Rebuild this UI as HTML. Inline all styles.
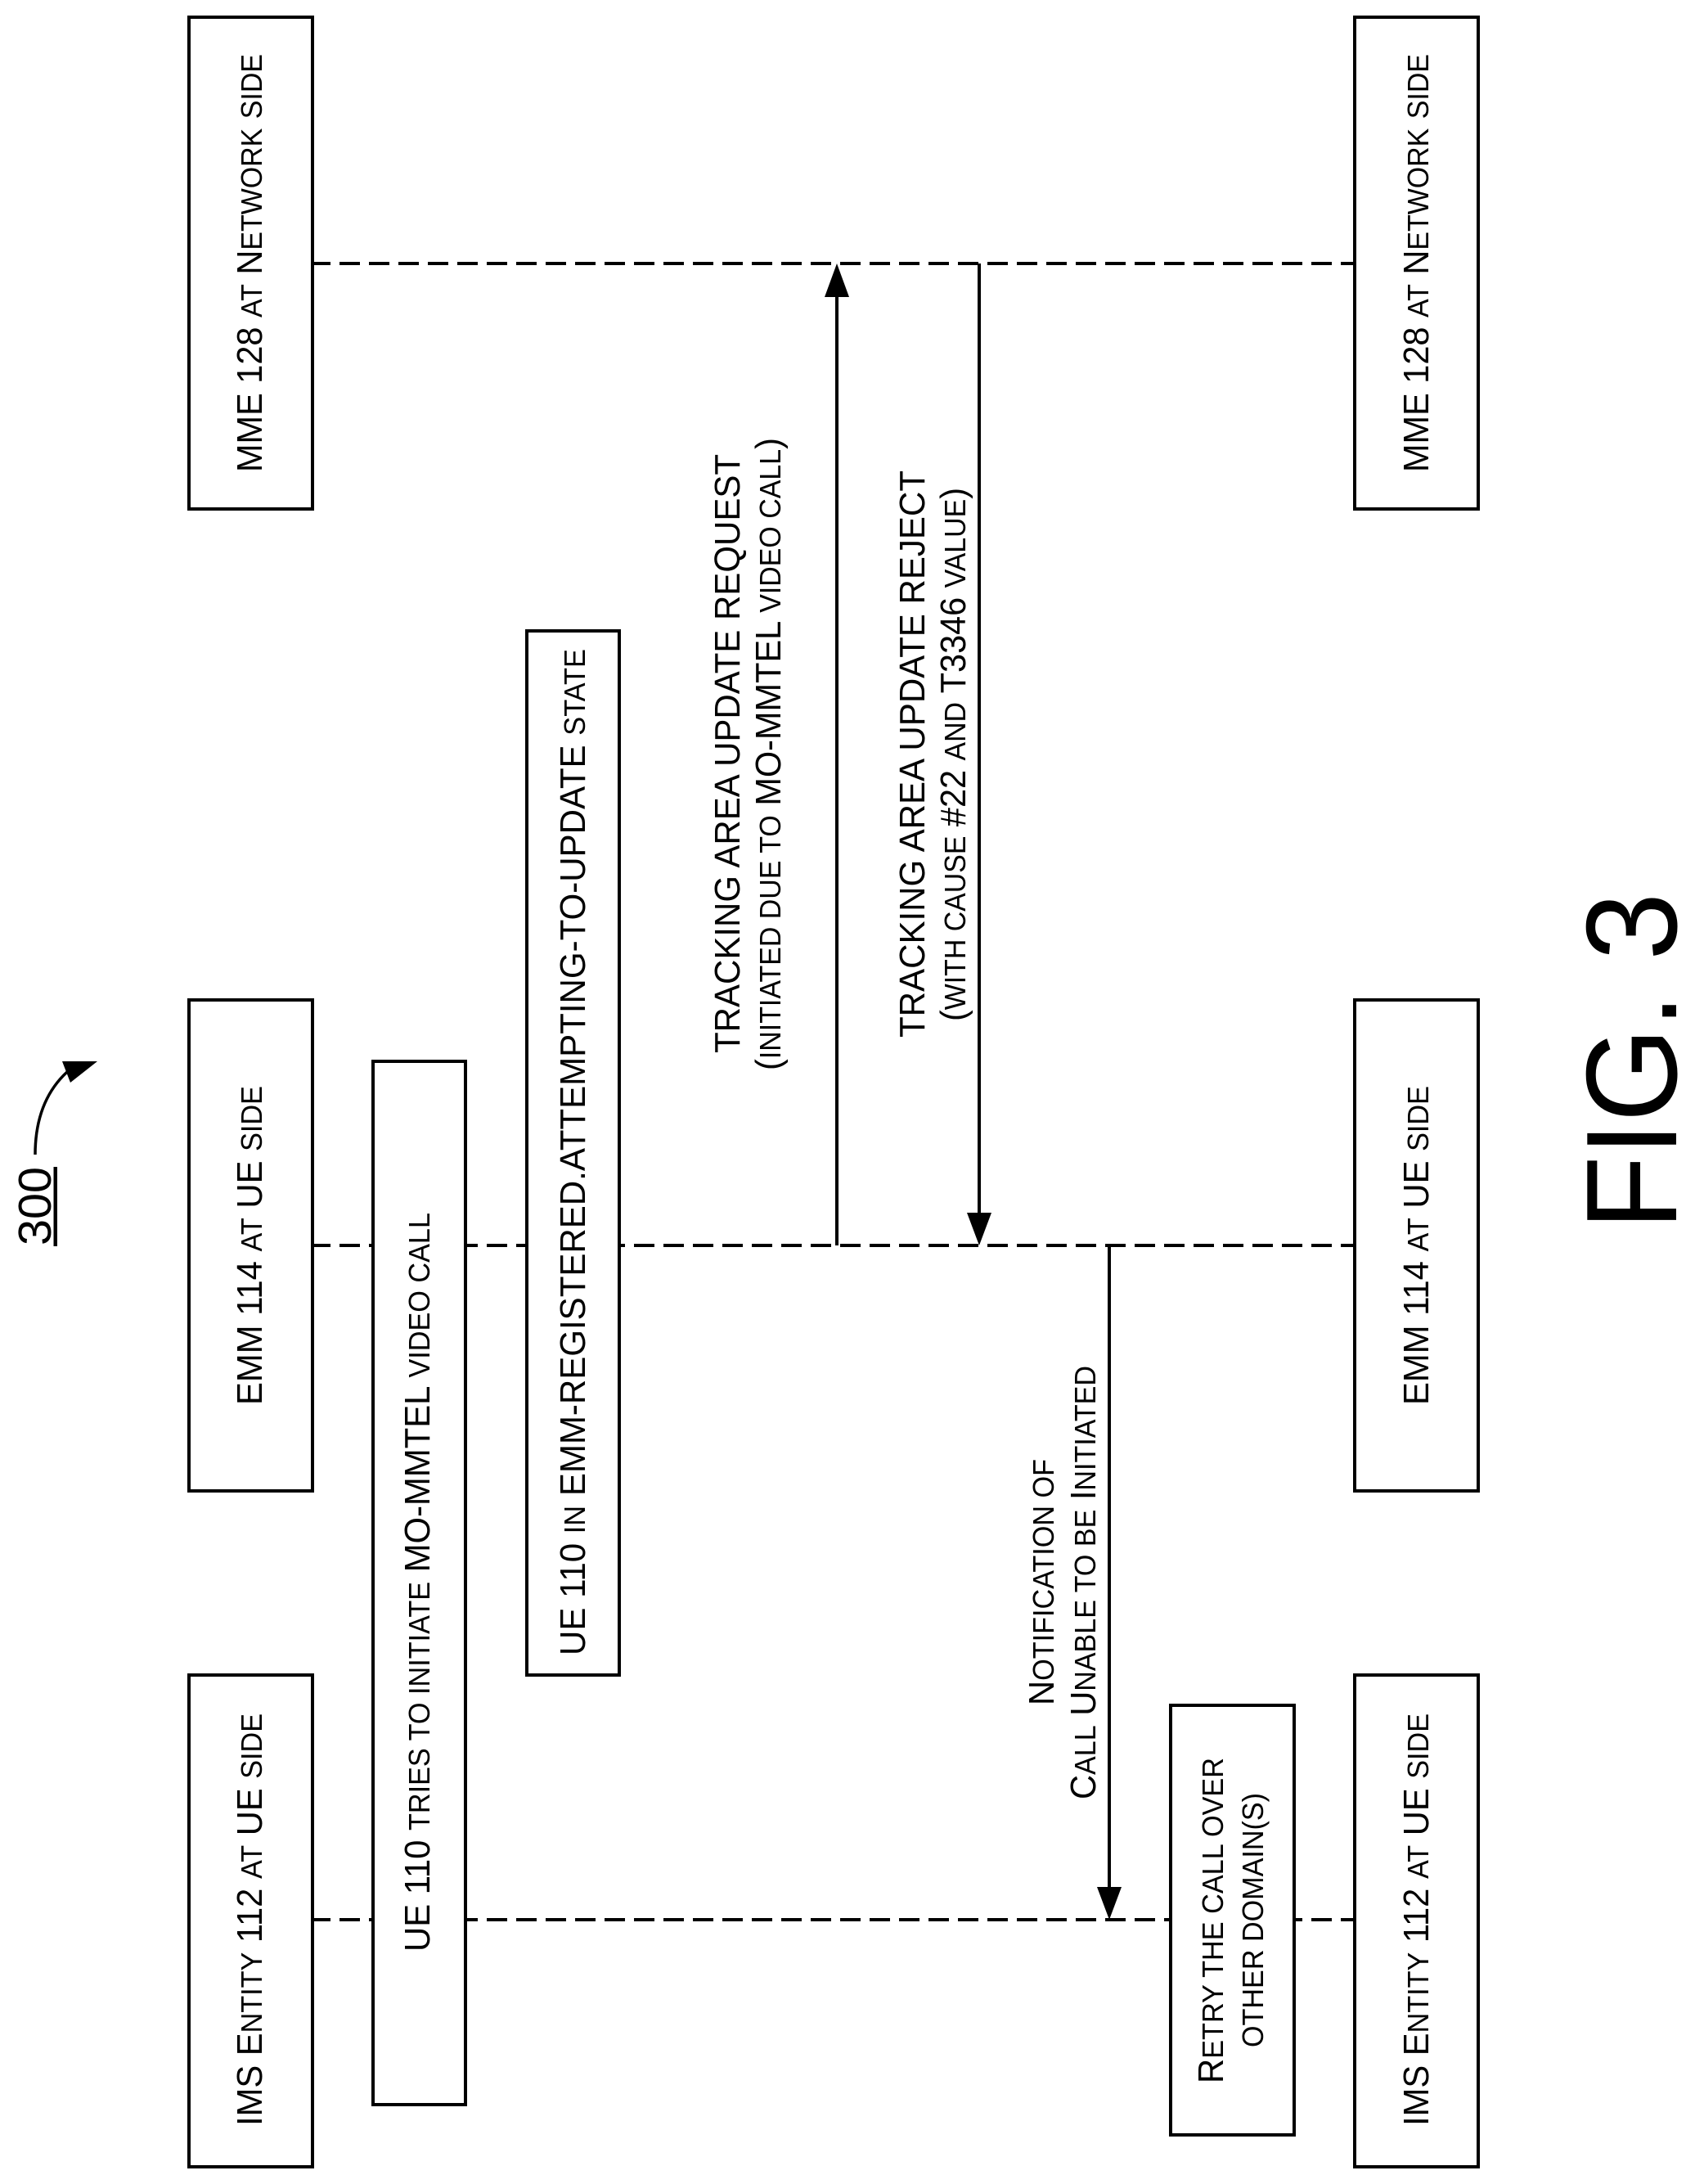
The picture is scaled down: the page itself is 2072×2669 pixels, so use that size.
<!DOCTYPE html>
<html><head><meta charset="utf-8"><style>
html,body{margin:0;padding:0;background:#fff}
svg{display:block}
text{font-family:"Liberation Sans",sans-serif;fill:#000}
.b{font-size:44px}
.s{font-size:36px}
.box{fill:#fff;stroke:#000;stroke-width:4}
.dash{stroke:#000;stroke-width:4;stroke-dasharray:25 11;fill:none}
.ln{stroke:#000;stroke-width:4;fill:none}
</style></head><body>
<svg xmlns="http://www.w3.org/2000/svg" width="2072" height="2669" viewBox="0 0 2072 2669">
<rect width="2072" height="2669" fill="#fff"/>
<line class="dash" x1="379" y1="322" x2="1656" y2="322"/>
<line class="dash" x1="379" y1="1522" x2="1656" y2="1522"/>
<line class="dash" x1="379" y1="2346" x2="1656" y2="2346"/>

<rect class="box" x="231" y="21" width="151" height="601"/>
<rect class="box" x="231" y="1222" width="151" height="600"/>
<rect class="box" x="231" y="2047" width="151" height="601"/>
<rect class="box" x="1656" y="21" width="151" height="601"/>
<rect class="box" x="1656" y="1222" width="151" height="600"/>
<rect class="box" x="1656" y="2047" width="151" height="601"/>
<rect class="box" x="456" y="1297" width="113" height="1275"/>
<rect class="box" x="644" y="771" width="113" height="1276"/>
<rect class="box" x="1431" y="2084" width="151" height="525"/>

<line class="ln" x1="1023" y1="1522" x2="1023" y2="360"/>
<polygon points="1023,322 1008,363 1038,363"/>
<line class="ln" x1="1197" y1="322" x2="1197" y2="1485"/>
<polygon points="1197,1522 1182,1482 1212,1482"/>
<line class="ln" x1="1356" y1="1522" x2="1356" y2="2310"/>
<polygon points="1356,2346 1341,2306 1371,2306"/>

<path d="M43,1411 C43,1370 55,1335 82,1310" fill="none" stroke="#000" stroke-width="3.5"/>
<polygon points="119,1297 76,1297 86,1323"/>
<rect x="65.5" y="1426" width="4.5" height="97"/>

<text transform="translate(62,1522) rotate(-90)" style="font-size:57px" textLength="96" lengthAdjust="spacingAndGlyphs">300</text>
<text transform="translate(2049,1503) rotate(-90)" style="font-size:158px" textLength="412" lengthAdjust="spacingAndGlyphs">FIG. 3</text>

<text class="b" transform="translate(320,577) rotate(-90)" textLength="511" lengthAdjust="spacingAndGlyphs">MME 128 <tspan class="s">AT</tspan> N<tspan class="s">ETWORK</tspan> <tspan class="s">SIDE</tspan></text>
<text class="b" transform="translate(1746,577) rotate(-90)" textLength="511" lengthAdjust="spacingAndGlyphs">MME 128 <tspan class="s">AT</tspan> N<tspan class="s">ETWORK</tspan> <tspan class="s">SIDE</tspan></text>
<text class="b" transform="translate(320,1717) rotate(-90)" textLength="390" lengthAdjust="spacingAndGlyphs">EMM 114 <tspan class="s">AT</tspan> UE <tspan class="s">SIDE</tspan></text>
<text class="b" transform="translate(1746,1717) rotate(-90)" textLength="390" lengthAdjust="spacingAndGlyphs">EMM 114 <tspan class="s">AT</tspan> UE <tspan class="s">SIDE</tspan></text>
<text class="b" transform="translate(320,2598) rotate(-90)" textLength="504" lengthAdjust="spacingAndGlyphs">IMS E<tspan class="s">NTITY</tspan> 112 <tspan class="s">AT</tspan> UE <tspan class="s">SIDE</tspan></text>
<text class="b" transform="translate(1746,2598) rotate(-90)" textLength="504" lengthAdjust="spacingAndGlyphs">IMS E<tspan class="s">NTITY</tspan> 112 <tspan class="s">AT</tspan> UE <tspan class="s">SIDE</tspan></text>

<text class="b" transform="translate(525,2385) rotate(-90)" textLength="903" lengthAdjust="spacingAndGlyphs">UE 110 <tspan class="s">TRIES TO INITIATE</tspan> MO-MMTEL <tspan class="s">VIDEO CALL</tspan></text>
<text class="b" transform="translate(715,2023) rotate(-90)" textLength="1230" lengthAdjust="spacingAndGlyphs">UE 110 <tspan class="s">IN</tspan> EMM-REGISTERED.ATTEMPTING-TO-UPDATE <tspan class="s">STATE</tspan></text>

<text class="b" transform="translate(904,1287) rotate(-90)" textLength="732" lengthAdjust="spacingAndGlyphs">TRACKING AREA UPDATE REQUEST</text>
<text class="b" transform="translate(954,1308) rotate(-90)" textLength="773" lengthAdjust="spacingAndGlyphs">(<tspan class="s">INITIATED DUE TO</tspan> MO-MMTEL <tspan class="s">VIDEO CALL</tspan>)</text>
<text class="b" transform="translate(1130,1268) rotate(-90)" textLength="693" lengthAdjust="spacingAndGlyphs">TRACKING AREA UPDATE REJECT</text>
<text class="b" transform="translate(1180,1248) rotate(-90)" textLength="652" lengthAdjust="spacingAndGlyphs">(<tspan class="s">WITH CAUSE</tspan> #22 <tspan class="s">AND</tspan> T3346 <tspan class="s">VALUE</tspan>)</text>

<text class="b" transform="translate(1288,2084) rotate(-90)" textLength="301" lengthAdjust="spacingAndGlyphs">N<tspan class="s">OTIFICATION OF</tspan></text>
<text class="b" transform="translate(1339,2199) rotate(-90)" textLength="530" lengthAdjust="spacingAndGlyphs">C<tspan class="s">ALL</tspan> U<tspan class="s">NABLE TO BE</tspan> I<tspan class="s">NITIATED</tspan></text>
<text class="b" transform="translate(1495,2546) rotate(-90)" textLength="398" lengthAdjust="spacingAndGlyphs">R<tspan class="s">ETRY THE CALL OVER</tspan></text>
<text class="s" transform="translate(1544,2502) rotate(-90)" textLength="311" lengthAdjust="spacingAndGlyphs">OTHER DOMAIN(S)</text>
</svg>
</body></html>
